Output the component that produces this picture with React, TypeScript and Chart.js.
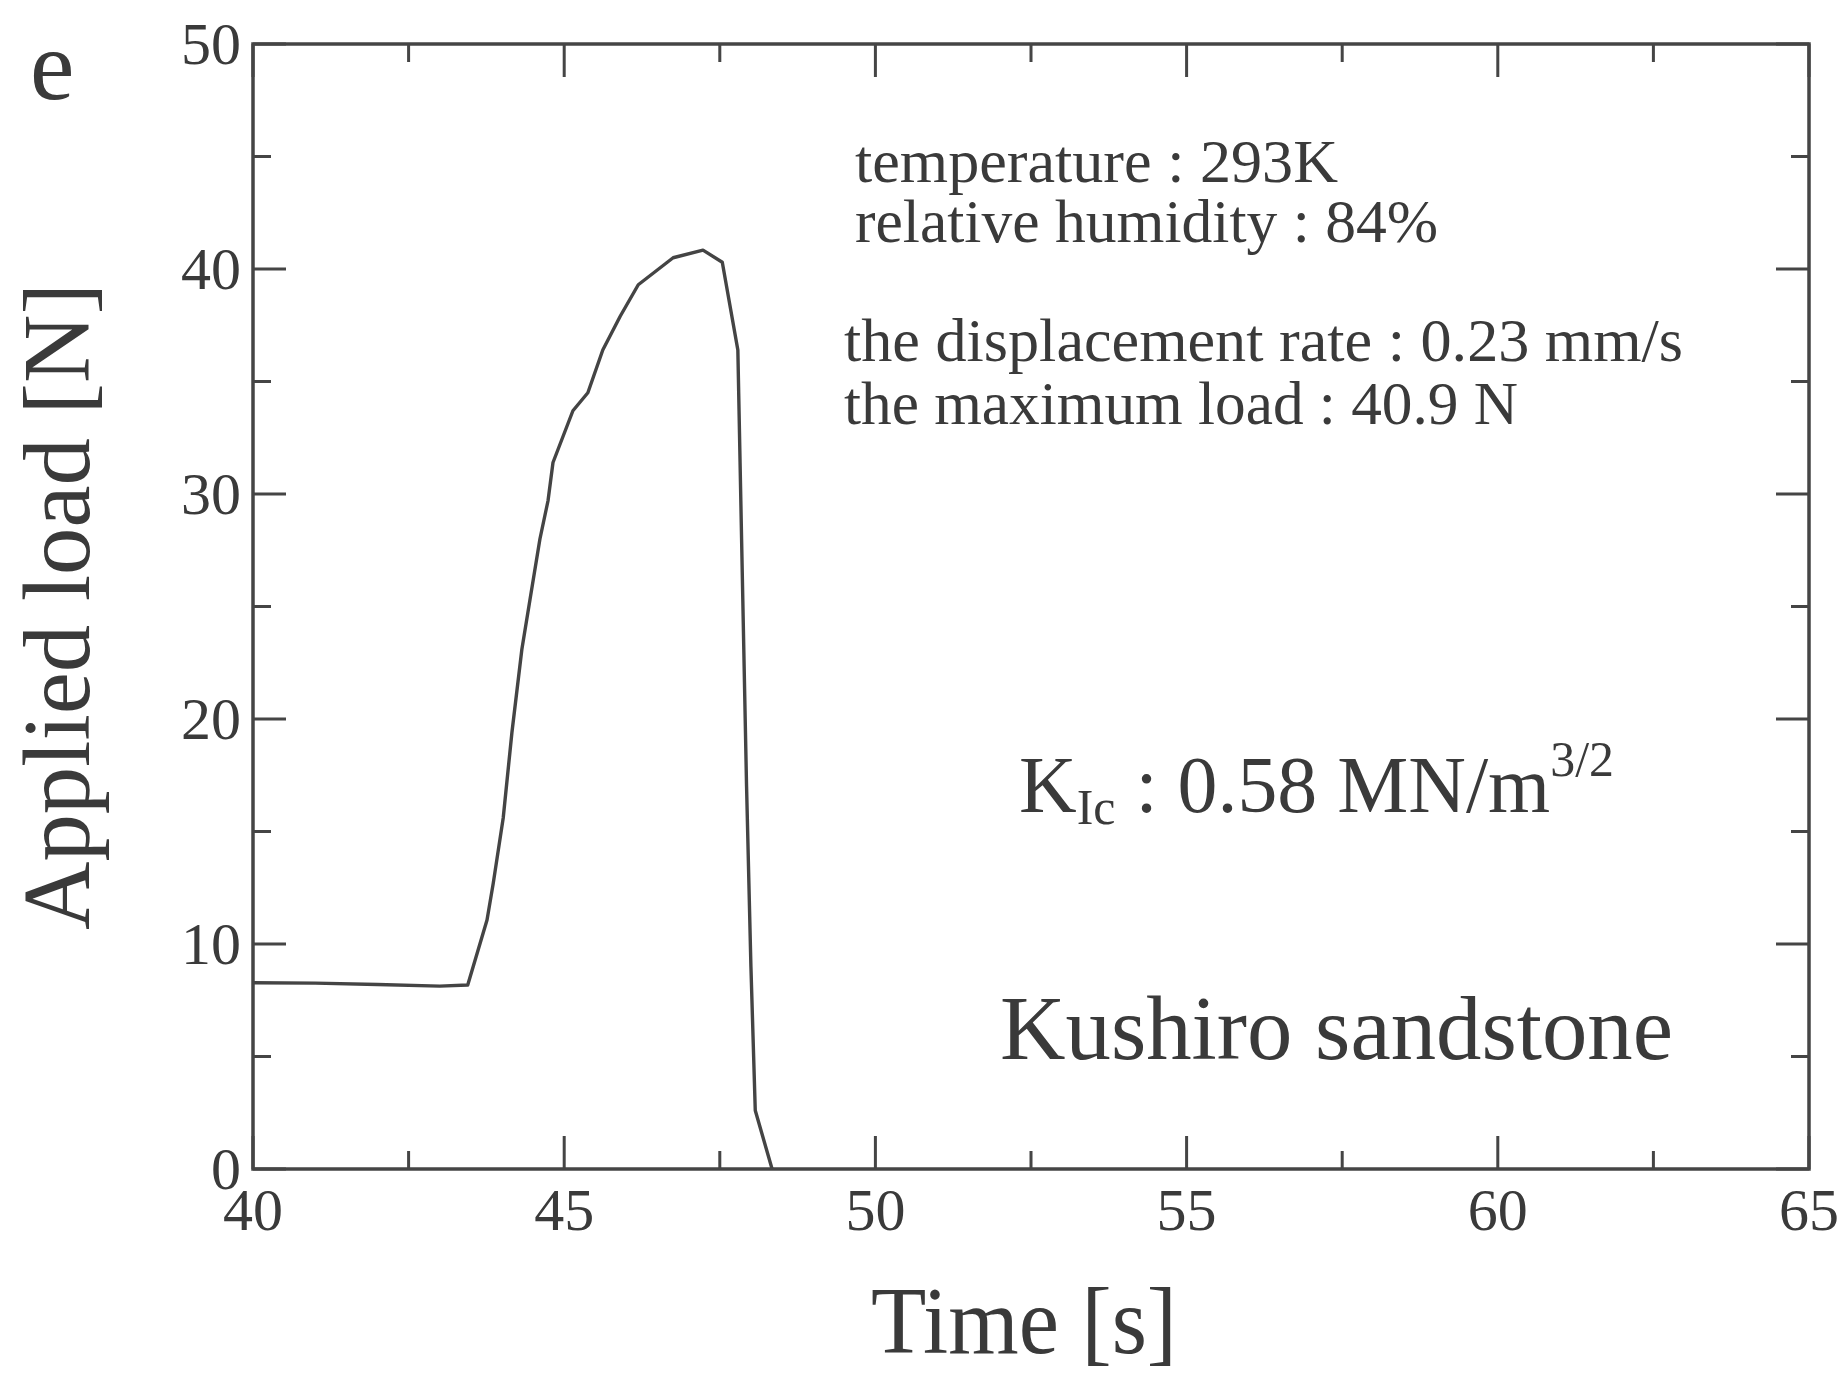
import React, { useEffect, useRef } from "react";
import { Chart, registerables } from "chart.js";

Chart.register(...registerables);

// ---- data ----
const timeValues = [
  40, 41, 42, 43, 43.45, 43.76, 43.86, 44.02, 44.16, 44.32, 44.45, 44.61, 44.74,
  44.82, 45.14, 45.38, 45.62, 45.9, 46.19, 46.75, 47.23, 47.54, 47.79, 47.85,
  47.93, 48.0, 48.07, 48.34,
];
const loadValues = [
  8.28, 8.26, 8.2, 8.13, 8.18, 11.07, 12.7, 15.6, 19.4, 23.1, 25.3, 28.0, 29.7,
  31.4, 33.7, 34.5, 36.4, 37.9, 39.3, 40.5, 40.84, 40.3, 36.4, 28.0, 17.0, 9.0,
  2.6, 0,
];

const xMajorTicks = [40, 45, 50, 55, 60, 65];
const xMinorTicks = [42.5, 47.5, 52.5, 57.5, 62.5];
const xTickLabels = ["40", "45", "50", "55", "60", "65"];
const yMajorTicks = [0, 10, 20, 30, 40, 50];
const yMinorTicks = [5, 15, 25, 35, 45];
const yTickLabels = ["0", "10", "20", "30", "40", "50"];

const xTitle = "Time [s]";
const yTitle = "Applied load [N]";
const panelLabel = "e";
const infoLines = [
  "temperature : 293K",
  "relative humidity : 84%",
  "the displacement rate : 0.23 mm/s",
  "the maximum load : 40.9 N",
];
const materialLabel = "Kushiro sandstone";

const SERIF = '"Liberation Serif", "Times New Roman", serif';
const INK = "#3a3a3a";
const FRAME = "#454545";

function fitText(
  ctx: CanvasRenderingContext2D,
  text: string,
  x: number,
  y: number,
  font: string,
  width: number | null,
  align: CanvasTextAlign = "left"
) {
  ctx.save();
  ctx.font = font;
  const w = ctx.measureText(text).width;
  const s = width ? width / w : 1;
  ctx.translate(x, y);
  ctx.scale(s, 1);
  ctx.textAlign = align;
  ctx.textBaseline = "alphabetic";
  ctx.fillText(text, 0, 0);
  ctx.restore();
}

const paperPlugin = {
  id: "paperPlugin",
  afterDatasetsDraw(chart: any) {
    const { ctx, chartArea: a, scales } = chart;
    const xs = scales.x;
    const ys = scales.y;
    ctx.save();
    ctx.fillStyle = INK;
    ctx.strokeStyle = FRAME;

    // frame
    ctx.lineWidth = 3.5;
    ctx.strokeRect(a.left, a.top, a.right - a.left, a.bottom - a.top);

    // ticks (inside, all four sides)
    ctx.lineWidth = 3;
    const MAJ = 33;
    const MIN = 18;
    ctx.beginPath();
    xMajorTicks.forEach((v) => {
      const p = xs.getPixelForValue(v);
      ctx.moveTo(p, a.bottom);
      ctx.lineTo(p, a.bottom - MAJ);
      ctx.moveTo(p, a.top);
      ctx.lineTo(p, a.top + MAJ);
    });
    xMinorTicks.forEach((v) => {
      const p = xs.getPixelForValue(v);
      ctx.moveTo(p, a.bottom);
      ctx.lineTo(p, a.bottom - MIN);
      ctx.moveTo(p, a.top);
      ctx.lineTo(p, a.top + MIN);
    });
    yMajorTicks.forEach((v) => {
      const p = ys.getPixelForValue(v);
      ctx.moveTo(a.left, p);
      ctx.lineTo(a.left + MAJ, p);
      ctx.moveTo(a.right, p);
      ctx.lineTo(a.right - MAJ, p);
    });
    yMinorTicks.forEach((v) => {
      const p = ys.getPixelForValue(v);
      ctx.moveTo(a.left, p);
      ctx.lineTo(a.left + MIN, p);
      ctx.moveTo(a.right, p);
      ctx.lineTo(a.right - MIN, p);
    });
    ctx.stroke();

    // tick labels
    const tickFont = `60px ${SERIF}`;
    xTickLabels.forEach((lab, i) => {
      fitText(ctx, lab, xs.getPixelForValue(xMajorTicks[i]), a.bottom + 61, tickFont, null, "center");
    });
    yTickLabels.forEach((lab, i) => {
      fitText(ctx, lab, a.left - 12, ys.getPixelForValue(yMajorTicks[i]) + 20, tickFont, null, "right");
    });

    // axis titles
    const titleFont = `95px ${SERIF}`;
    fitText(ctx, xTitle, 1024, 1353, titleFont, 306, "center");
    ctx.save();
    ctx.translate(89, (a.top + a.bottom) / 2);
    ctx.rotate(-Math.PI / 2);
    fitText(ctx, yTitle, 0, 0, titleFont, 647, "center");
    ctx.restore();

    // panel label
    fitText(ctx, panelLabel, 30, 99, `100px ${SERIF}`, null, "left");

    // info text
    const infoFont = `62px ${SERIF}`;
    const infoPos = [
      [855, 182, 483],
      [855, 242, 583],
      [844, 361, 839],
      [844, 424, 674],
    ];
    infoLines.forEach((t, i) => {
      const [x, y, w] = infoPos[i];
      fitText(ctx, t, x, y, infoFont, w, "left");
    });

    // K_Ic line
    {
      const big = `80px ${SERIF}`;
      const small = `50px ${SERIF}`;
      const parts: [string, string, number][] = [
        ["K", big, 0],
        ["Ic", small, 12],
        [" : 0.58 MN/m", big, 0],
        ["3/2", small, -36],
      ];
      let total = 0;
      const widths = parts.map(([t, f]) => {
        ctx.font = f;
        const w = ctx.measureText(t).width;
        total += w;
        return w;
      });
      const s = 595 / total;
      let x = 1019;
      const base = 812;
      parts.forEach(([t, f, dy], i) => {
        ctx.save();
        ctx.font = f;
        ctx.translate(x, base + dy);
        ctx.scale(s, 1);
        ctx.textAlign = "left";
        ctx.textBaseline = "alphabetic";
        ctx.fillText(t, 0, 0);
        ctx.restore();
        x += widths[i] * s;
      });
    }

    // material label
    fitText(ctx, materialLabel, 1000, 1059, `91px ${SERIF}`, 673, "left");

    ctx.restore();
  },
};

export default function App() {
  const canvasRef = useRef<HTMLCanvasElement | null>(null);

  useEffect(() => {
    const canvas = canvasRef.current;
    if (!canvas) return;
    const points = timeValues.map((t, i) => ({ x: t, y: loadValues[i] }));
    const chart = new Chart(canvas, {
      type: "line",
      data: {
        datasets: [
          {
            data: points,
            borderColor: "#444444",
            borderWidth: 3.4,
            borderJoinStyle: "round",
            pointRadius: 0,
            tension: 0,
            fill: false,
          },
        ],
      },
      options: {
        responsive: false,
        animation: false,
        devicePixelRatio: 1,
        layout: { padding: { left: 0, top: 44, right: 36, bottom: 0 } },
        plugins: {
          legend: { display: false },
          tooltip: { enabled: false },
        },
        scales: {
          x: {
            type: "linear",
            min: 40,
            max: 65,
            grid: { display: false },
            border: { display: false },
            ticks: { display: false },
            afterFit: (scale: any) => {
              scale.height = 1373 - 1169;
            },
          },
          y: {
            type: "linear",
            min: 0,
            max: 50,
            grid: { display: false },
            border: { display: false },
            ticks: { display: false },
            afterFit: (scale: any) => {
              scale.width = 253;
            },
          },
        },
      },
      plugins: [paperPlugin],
    } as any);
    return () => chart.destroy();
  }, []);

  return (
    <div
      style={{
        position: "absolute",
        left: 0,
        top: 0,
        width: 1845,
        height: 1373,
        background: "#fff",
      }}
    >
      <canvas ref={canvasRef} width={1845} height={1373} />
    </div>
  );
}
